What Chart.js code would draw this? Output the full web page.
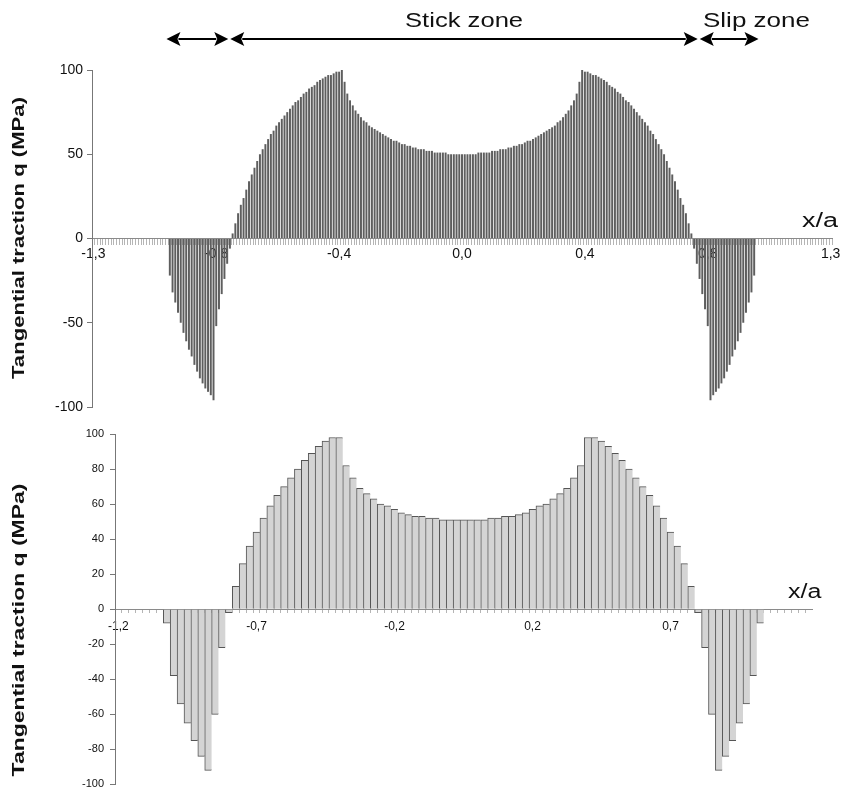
<!DOCTYPE html>
<html>
<head>
<meta charset="utf-8">
<script src="https://cdn.jsdelivr.net/npm/chart.js@4.4.1/dist/chart.umd.min.js"></script>
<style>
  body { margin: 0; background: #fff; }
  #page { position: relative; width: 844px; height: 797px; overflow: hidden; font-family: "Liberation Sans", Arial, sans-serif; color: #111; }
  .box { position: absolute; left: 0; width: 844px; }
  .lbl { position: absolute; white-space: nowrap; line-height: 1; transform-origin: 0 0; }
  .ytitle { position: absolute; white-space: nowrap; font-weight: bold; font-size: 17px; line-height: 1; }
</style>
</head>
<body>
<div id="page">
  <div class="box" style="top:0;height:420px"><canvas id="topChart" width="844" height="420"></canvas></div>
  <div class="box" style="top:420px;height:377px"><canvas id="bottomChart" width="844" height="377"></canvas></div>

  <div class="lbl" style="left:405px;top:10px;font-size:20px;transform:scaleX(1.28)">Stick zone</div>
  <div class="lbl" style="left:703px;top:10px;font-size:20px;transform:scaleX(1.3)">Slip zone</div>
  <div class="lbl" style="left:802px;top:210px;font-size:20px;transform:scaleX(1.35)">x/a</div>
  <div class="lbl" style="left:788px;top:581px;font-size:20px;transform:scaleX(1.25)">x/a</div>
  <div class="ytitle" style="left:18px;top:238px;transform:translate(-50%,-50%) rotate(-90deg) scaleX(1.3)">Tangential traction q (MPa)</div>
  <div class="ytitle" style="left:18px;top:630px;transform:translate(-50%,-50%) rotate(-90deg) scaleX(1.35)">Tangential traction q (MPa)</div>
</div>
<script>
// upper plot: fine discretisation
const topValues = [
  0,0,0,0,0,0,0,0,0,0,0,0,0,0,0,0,0,0,0,0,0,0,0,0,0,0,0,0,
  -22,-32,-38,-44,-50,-56,-61,-66,-70,-75,-79,-83,-86,-89,-91,-93,-96,-52,-42,-33,-24,-15,-6,
  3,9,15,20,24,29,34,38,42,46,50,53,56,59,62,64,67,69,71,73,75,77,79,81,82,84,86,87,89,90,91,93,94,95,96,97,97,98,99,99,100,
  93,86,82,79,76,74,72,70,69,67,66,65,64,63,62,61,60,59,58,58,57,56,56,55,55,54,54,53,53,53,52,52,52,51,51,51,51,51,50,50,50,50,50,50,
  50,50,50,50,50,51,51,51,51,51,52,52,52,53,53,53,54,54,55,55,56,56,57,58,58,59,60,61,62,63,64,65,66,67,69,70,72,74,76,79,82,86,93,
  100,99,99,98,97,97,96,95,94,93,91,90,89,87,86,84,82,81,79,77,75,73,71,69,67,64,62,59,56,53,50,46,42,38,34,29,24,20,15,9,3,
  -6,-15,-24,-33,-42,-52,-96,-93,-91,-89,-86,-83,-79,-75,-70,-66,-61,-56,-50,-44,-38,-32,-22,
  0,0,0,0,0,0,0,0,0,0,0,0,0,0,0,0,0,0,0,0,0,0,0,0,0,0,0,0
];
const topTickLabels = ['-1,3', '-0,8', '-0,4', '0,0', '0,4', '0,8', '1,3'];
const topLabelEvery = 45;

// lower plot: coarse discretisation
const bottomValues = [
  0,0,0,0,0,0,0,
  -8,-38,-54,-65,-75,-84,-92,-60,-22,-2,
  13,26,36,44,52,59,65,70,75,80,85,89,93,96,98,98,82,75,69,66,63,60,59,57,55,54,53,53,52,52,51,51,51,51,
  51,51,51,52,52,53,53,54,55,57,59,60,63,66,69,75,82,98,98,96,93,89,85,80,75,70,65,59,52,44,36,26,13,
  -2,-22,-60,-92,-84,-75,-65,-54,-38,-8,
  0,0,0,0,0,0,0
];
const bottomTickLabels = ['-1,2', '-0,7', '-0,2', '0,2', '0,7'];
const bottomLabelEvery = 20;

const FONT = '"Liberation Sans", Arial, sans-serif';

function drawArrow(ctx, x1, x2, y)
{
    const h = 14, w = 7;
    ctx.beginPath();
    ctx.moveTo(x1 + h - 2, y);
    ctx.lineTo(x2 - h + 2, y);
    ctx.lineWidth = 2;
    ctx.strokeStyle = '#000';
    ctx.stroke();
    ctx.fillStyle = '#000';
    ctx.beginPath();
    ctx.moveTo(x1, y); ctx.lineTo(x1 + h, y - w); ctx.lineTo(x1 + h - 3, y); ctx.lineTo(x1 + h, y + w);
    ctx.closePath(); ctx.fill();
    ctx.beginPath();
    ctx.moveTo(x2, y); ctx.lineTo(x2 - h, y - w); ctx.lineTo(x2 - h + 3, y); ctx.lineTo(x2 - h, y + w);
    ctx.closePath(); ctx.fill();
}

// stick / slip zone arrows, taken from the sign changes of the upper series
const zoneArrows = {
    id: 'zoneArrows',
    afterDraw(chart)
    {
        const ctx = chart.ctx;
        const x = chart.scales.x;
        const half = (x.getPixelForValue(1) - x.getPixelForValue(0)) / 2;
        const firstNeg = topValues.findIndex(v => v < 0);
        const firstPos = topValues.findIndex(v => v > 0);
        const lastPos = topValues.findLastIndex(v => v > 0);
        const lastNeg = topValues.findLastIndex(v => v < 0);
        const e0 = x.getPixelForValue(firstNeg) - half;
        const e1 = x.getPixelForValue(firstPos) - half;
        const e2 = x.getPixelForValue(lastPos) + half;
        const e3 = x.getPixelForValue(lastNeg) + half;
        const y = 39;
        ctx.save();
        drawArrow(ctx, e0 - 2, e1 - 3, y);
        drawArrow(ctx, e1 - 1, e2 + 5, y);
        drawArrow(ctx, e2 + 7, e3 + 3, y);
        ctx.restore();
    }
};

function makeChart(id, values, tickLabels, every, opts)
{
    const labels = values.map((v, i) => i);
    return new Chart(document.getElementById(id), {
        type: 'bar',
        data: {
            labels: labels,
            datasets: [{
                data: values,
                backgroundColor: opts.fill,
                borderColor: opts.border,
                borderWidth: opts.borderWidth,
                borderSkipped: 'start',
                categoryPercentage: 1,
                barPercentage: opts.barPercentage
            }]
        },
        options: {
            responsive: false,
            animation: false,
            events: [],
            layout: { padding: opts.padding },
            plugins: { legend: { display: false }, tooltip: { enabled: false } },
            scales: {
                x: {
                    type: 'category',
                    position: { y: 0 },
                    border: { display: true, color: '#8a8a8a', width: 1 },
                    grid: { drawOnChartArea: false, drawTicks: true, tickLength: opts.xTick, color: '#b5b5b5' },
                    ticks: {
                        autoSkip: false, maxRotation: 0, minRotation: 0,
                        padding: opts.xPad,
                        color: '#111',
                        font: { family: FONT, size: opts.xFont },
                        callback: (v, i) => (i % every === 0 ? tickLabels[i / every] : '')
                    }
                },
                y: {
                    min: -100, max: 100,
                    border: { display: true, color: '#777', width: 1 },
                    grid: { drawOnChartArea: false, drawTicks: true, tickLength: 5, color: '#777' },
                    ticks: { stepSize: opts.yStep, padding: opts.yPad, color: '#111', font: { family: FONT, size: opts.yFont } },
                    afterFit: s => { s.width = opts.yWidth; }
                }
            }
        },
        plugins: opts.plugins || []
    });
}

makeChart('topChart', topValues, topTickLabels, topLabelEvery, {
    fill: '#5e5e5e', border: '#5e5e5e', borderWidth: 0, barPercentage: 0.72,
    padding: { left: 0, top: 70, right: 12, bottom: 13 },
    xTick: 6, xPad: 1, xFont: 14, yStep: 50, yPad: 4, yFont: 14, yWidth: 92,
    plugins: [zoneArrows]
});

makeChart('bottomChart', bottomValues, bottomTickLabels, bottomLabelEvery, {
    fill: '#d4d4d4', border: '#555', borderWidth: { left: 1, top: 1, right: 0, bottom: 1 }, barPercentage: 1,
    padding: { left: 0, top: 14, right: 32, bottom: 9 },
    xTick: 3, xPad: 7, xFont: 12, yStep: 20, yPad: 6, yFont: 11, yWidth: 115
});
</script>
</body>
</html>
